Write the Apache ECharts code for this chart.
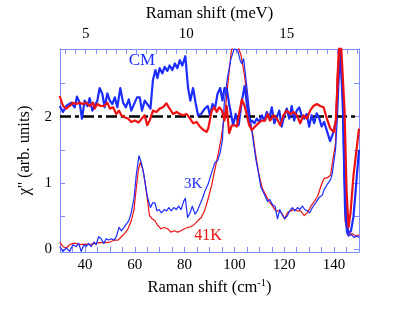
<!DOCTYPE html>
<html><head><meta charset="utf-8">
<script src="https://cdn.jsdelivr.net/npm/echarts@6/dist/echarts.min.js"></script>
<style>html,body{margin:0;padding:0;background:#fff}#c{width:415px;height:312px}</style>
</head><body><div id="c"></div>
<script>
// ---- data (Raman shift in cm^-1, chi'' in arb. units) ----
const cmBlueX = [29.9,31.2,32.5,34.5,35.9,36.8,37.9,38.8,39.9,41.0,41.9,43.0,43.9,45.0,45.9,47.0,47.9,49.0,50.0,51.0,52.0,53.0,54.2,55.3,56.4,57.6,58.6,60.0,60.9,62.0,62.9,64.0,65.0,66.3,67.3,68.3,69.1,70.0,71.1,72.0,73.1,74.0,75.1,76.1,77.1,78.1,79.1,80.3,81.4,82.3,83.4,84.5,85.4,86.7,88.1,89.3,90.2,91.2,92.2,93.2,94.3,95.2,96.0,96.9,97.9,99.5,100.5,101.7,103.0,104.1,105.0,106.1,107.0,108.0,109.0,110.0,111.0,112.0,113.0,114.0,115.0,116.0,117.0,118.0,119.0,120.0,121.0,122.0,123.0,124.0,125.0,126.0,127.0,128.0,129.0,130.0,131.0,132.0,133.0,134.0,135.0,136.0,137.0,138.4,139.8,140.8,141.8,142.6,143.4,144.2,145.0,145.8,146.8,147.8,148.8,150.0];
const cmBlueY = [2.16,2.07,2.16,2.21,2.14,2.30,2.21,1.97,2.24,2.16,2.28,2.09,2.16,2.24,2.43,2.34,2.14,2.35,2.24,2.19,2.29,2.14,2.43,2.21,2.14,2.26,2.09,2.21,2.29,2.29,2.09,2.24,2.19,2.12,2.55,2.70,2.58,2.73,2.65,2.75,2.69,2.77,2.70,2.80,2.73,2.85,2.77,2.91,2.43,2.24,2.43,2.19,2.02,2.04,2.12,2.16,2.02,2.19,2.12,2.34,2.43,2.24,2.43,2.42,2.19,1.87,2.04,1.87,2.24,2.46,2.19,1.92,1.94,1.90,1.97,1.92,2.02,1.94,2.07,1.97,2.14,1.90,1.99,2.09,1.85,2.02,2.12,1.97,2.16,1.94,2.09,2.14,2.02,1.97,2.04,1.85,2.02,1.90,2.05,1.98,1.85,1.92,1.80,1.63,1.77,1.94,2.68,2.98,2.40,1.10,0.40,0.24,0.28,0.50,0.95,1.50];

const cmRedX = [29.9,31.2,32.5,33.9,35.2,36.5,37.9,39.2,40.5,41.9,43.3,43.9,45.0,46.3,47.7,49.0,50.0,51.3,52.6,53.7,54.6,55.9,57.3,58.6,60.0,61.5,62.8,64.0,65.0,66.0,67.3,68.7,70.0,71.3,72.7,74.0,75.4,76.8,78.1,79.5,80.8,82.2,83.4,84.8,86.1,87.5,88.8,89.5,90.9,92.0,92.9,93.9,95.0,96.0,96.9,97.9,99.0,100.1,101.0,102.1,103.0,104.1,105.0,105.9,107.0,108.3,109.6,111.0,112.3,113.4,114.3,115.7,117.0,118.4,119.7,121.0,122.4,123.7,125.1,126.4,127.7,129.1,130.4,131.7,133.1,134.4,135.8,137.1,138.5,139.8,140.7,141.8,142.5,143.2,144.2,145.0,145.8,146.6,147.8,149.0,150.0];
const cmRedY = [2.31,2.16,2.12,2.16,2.21,2.19,2.21,2.19,2.21,2.16,2.21,2.12,2.19,2.16,2.16,2.21,2.12,2.14,2.04,2.09,2.02,1.99,1.97,1.92,1.94,1.91,1.97,2.02,1.87,1.94,2.09,2.07,2.12,2.14,2.20,2.12,2.04,2.07,2.04,2.02,2.04,1.97,1.90,1.92,1.85,1.80,1.77,1.82,2.09,2.14,2.07,2.14,2.09,1.94,2.16,1.75,1.87,1.87,1.85,2.09,2.26,2.16,2.02,1.87,1.80,1.85,1.90,1.94,1.94,2.04,1.94,2.02,1.97,1.87,2.02,2.09,2.04,2.07,2.02,1.90,2.02,1.97,2.09,2.16,2.19,2.16,2.14,1.97,1.82,1.77,1.94,2.82,3.30,3.30,2.10,0.90,0.33,0.55,1.12,1.50,1.82];

const k3X = [29.9,31.2,32.5,33.9,35.2,36.5,37.5,38.5,39.6,40.5,41.4,42.5,43.6,44.5,45.5,46.5,47.6,48.5,49.5,50.6,51.6,52.6,53.7,54.6,55.7,56.6,57.6,58.6,59.7,60.6,61.7,62.6,63.5,64.3,65.2,66.3,67.2,68.1,68.9,69.8,70.7,71.8,72.8,73.7,74.6,75.7,76.7,77.6,78.6,79.6,80.3,81.2,82.2,83.1,84.2,85.1,86.1,87.2,88.1,89.5,90.9,92.2,93.3,94.3,95.2,95.9,97.2,98.6,99.9,101.3,102.3,102.9,103.7,104.6,106.0,107.3,108.6,109.6,110.6,111.5,112.3,113.3,114.2,115.3,116.3,117.3,118.2,119.3,120.2,121.3,122.2,123.3,124.2,125.3,126.2,127.3,128.2,129.3,130.2,131.3,132.6,134.0,135.3,136.0,137.3,138.6,139.3,140.6,141.5,142.4,143.3,144.2,145.0,145.8,147.0,148.0,149.2,150.0];
const k3Y = [0.04,-0.03,0.02,-0.03,0.07,0.04,0.09,-0.03,0.07,0.04,0.09,0.04,0.11,0.07,0.19,0.16,0.09,0.16,0.14,0.16,0.14,0.19,0.33,0.28,0.33,0.38,0.43,0.55,0.77,1.12,1.41,1.31,1.16,0.97,0.77,0.63,0.70,0.70,0.58,0.60,0.55,0.60,0.58,0.63,0.58,0.63,0.60,0.65,0.60,0.72,0.77,0.48,0.55,0.65,0.53,0.58,0.67,0.77,0.87,0.99,1.16,1.31,1.34,1.46,1.65,2.19,2.58,2.87,3.02,3.00,2.85,2.80,2.87,2.58,2.09,1.70,1.36,1.16,0.94,0.87,0.90,0.72,0.75,0.67,0.65,0.46,0.60,0.51,0.46,0.51,0.58,0.63,0.58,0.63,0.60,0.65,0.60,0.58,0.55,0.63,0.70,0.78,0.82,0.90,0.98,1.05,1.15,1.51,2.10,2.90,2.20,0.60,0.25,0.20,0.22,0.18,0.20,0.18];

const k41X = [29.9,31.2,32.5,33.9,35.2,36.5,37.9,40.0,42.0,44.0,46.0,48.0,50.0,52.0,53.3,54.6,56.0,57.3,58.6,59.7,60.6,61.5,62.3,63.2,64.1,65.0,65.9,67.0,68.1,69.2,70.5,71.8,73.2,74.5,75.9,77.2,78.6,79.9,81.3,82.6,84.0,85.3,86.7,88.0,89.5,90.9,92.2,93.6,94.6,96.3,97.6,98.7,99.6,101.0,102.7,104.0,105.3,106.7,107.3,108.6,109.9,111.2,112.6,113.9,115.3,116.6,118.0,119.3,120.2,121.3,122.6,124.0,125.3,126.6,128.0,129.3,130.7,132.0,133.4,134.7,136.0,137.3,138.6,139.3,140.6,141.1,142.2,143.0,143.7,144.4,145.8,147.0,148.0,149.2,150.0];
const k41Y = [0.11,0.04,0.02,0.07,0.09,0.09,0.07,0.08,0.07,0.09,0.10,0.10,0.11,0.14,0.14,0.19,0.24,0.31,0.43,0.60,0.92,1.21,1.31,1.21,1.02,0.77,0.51,0.46,0.43,0.36,0.31,0.33,0.31,0.26,0.28,0.26,0.28,0.31,0.33,0.34,0.38,0.43,0.48,0.58,0.77,0.97,1.21,1.46,1.65,2.09,2.58,2.97,3.10,3.10,2.92,2.63,2.24,1.80,1.75,1.41,1.12,0.92,0.82,0.72,0.65,0.58,0.58,0.53,0.46,0.55,0.58,0.60,0.58,0.58,0.51,0.55,0.65,0.72,0.80,0.95,1.07,1.08,1.12,1.30,1.60,2.55,3.30,3.30,2.09,0.43,0.21,0.24,0.22,0.20,0.22];

const refLevel = 2;              // dash-dot reference line
const refX = [30, 150];
const xRange = [30, 150];
const yRange = [-0.04, 3.02];
const xLabels = [40, 60, 80, 100, 120, 140];
const xTicks = [30,35,40,45,50,55,60,65,70,75,80,85,90,95,100,105,110,115,120,125,130,135,140,145,150];
const meVLabels = [5, 10, 15];
const meVTicks = [4,4.5,5,5.5,6,6.5,7,7.5,8,8.5,9,9.5,10,10.5,11,11.5,12,12.5,13,13.5,14,14.5,15,15.5,16,16.5,17,17.5,18,18.5];
const yLabels = [0, 1, 2];
const yTicks = [0, 0.5, 1, 1.5, 2, 2.5];
const CM_PER_MEV = 8.0655;
const texts = [
  {t: 'CM', x: 62.9, y: 2.85, c: '#1a2cff', s: 17},
  {t: '3K', x: 83.4, y: 0.99, c: '#1a2cff', s: 15},
  {t: '41K', x: 89.4, y: 0.20, c: '#ee1111', s: 16}
];

// ---- chart ----
const BLUE = '#1a2cff', RED = '#ee1111', FRAME = '#7d8cff', FONT = 'Liberation Serif';
const zip = (xs, ys) => xs.map((x, i) => [x, ys[i]]);
const chart = echarts.init(document.getElementById('c'));
const lab = {color: '#000', fontFamily: FONT, fontSize: 15};
const ttl = {color: '#000', fontFamily: FONT, fontSize: 16.5};
const tick = (vals) => ({show: true, inside: true, length: 5, customValues: vals, lineStyle: {color: FRAME, width: 1}});
const line = {show: true, onZero: false, lineStyle: {color: FRAME, width: 1}};
function ser(name, data, color, width, z) {
  return {name, type: 'line', data, showSymbol: false, symbol: 'none', clip: true, z,
    lineStyle: {color, width, join: 'round'}, itemStyle: {color}};
}
chart.setOption({
  animation: false,
  grid: {left: 60, right: 56, top: 43, bottom: 60},
  xAxis: [
    {type: 'value', min: xRange[0], max: xRange[1], position: 'bottom', axisLine: line,
      axisTick: tick(xTicks), splitLine: {show: false},
      axisLabel: Object.assign({customValues: xLabels, margin: 6}, lab),
      name: '{a|Raman shift (cm}{s|-1}{a|)}', nameLocation: 'middle', nameGap: 23,
      nameTextStyle: {rich: {a: {fontFamily: FONT, fontSize: 16.5, color: '#000', lineHeight: 19},
        s: {fontFamily: FONT, fontSize: 10.5, color: '#000', verticalAlign: 'top', lineHeight: 10}}}},
    {type: 'value', min: xRange[0] / CM_PER_MEV, max: xRange[1] / CM_PER_MEV, position: 'top', axisLine: line,
      axisTick: tick(meVTicks), splitLine: {show: false},
      axisLabel: Object.assign({customValues: meVLabels, margin: 7}, lab),
      name: 'Raman shift (meV)', nameLocation: 'middle', nameGap: 23, nameTextStyle: ttl}
  ],
  yAxis: [
    {type: 'value', min: yRange[0], max: yRange[1], position: 'left', axisLine: line,
      axisTick: tick(yTicks), splitLine: {show: false},
      axisLabel: Object.assign({customValues: yLabels, margin: 8}, lab),
      name: "χ'' (arb. units)", nameLocation: 'middle', nameGap: 23, nameRotate: 90, nameTextStyle: ttl},
    {type: 'value', min: yRange[0], max: yRange[1], position: 'right', axisLine: line,
      axisTick: tick(yTicks), splitLine: {show: false}, axisLabel: {show: false}}
  ],
  series: [
    ser('41K', zip(k41X, k41Y), RED, 1.2, 2),
    ser('3K', zip(k3X, k3Y), BLUE, 1.2, 3),
    {name: 'ref', type: 'line', data: refX.map(x => [x, refLevel]), showSymbol: false, symbol: 'none', z: 4,
      lineStyle: {color: '#000', width: 2.5, type: [11, 4, 4, 4]}},
    ser('CM blue', zip(cmBlueX, cmBlueY), BLUE, 2.2, 5),
    ser('CM red', zip(cmRedX, cmRedY), RED, 2.2, 6)
  ]
});
const g = texts.map(o => {
  const p = chart.convertToPixel({gridIndex: 0}, [o.x, o.y]);
  return {type: 'text', x: p[0], y: p[1], z: 10,
    style: {text: o.t, fill: o.c, font: o.s + 'px "' + FONT + '"', textAlign: 'center', textVerticalAlign: 'middle'}};
});
chart.setOption({graphic: g});
</script></body></html>
